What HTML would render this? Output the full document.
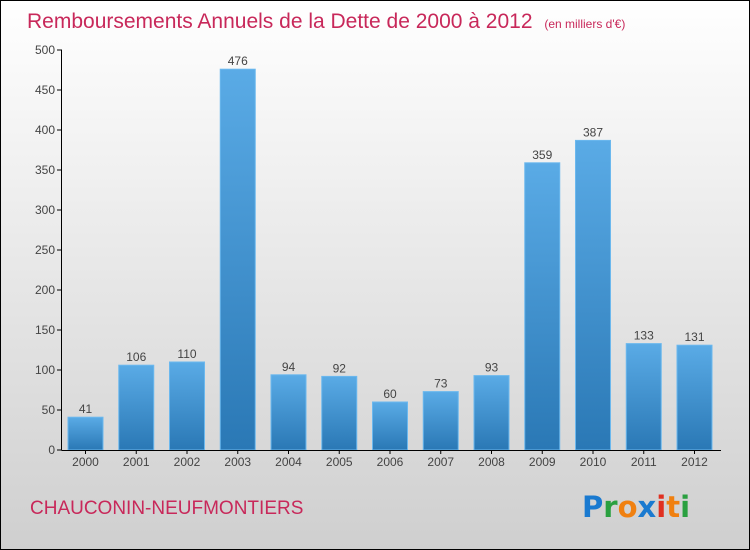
<!DOCTYPE html>
<html><head><meta charset="utf-8"><style>
body{margin:0}
svg{display:block;font-family:"Liberation Sans",sans-serif}
</style></head><body>
<svg width="750" height="550">
<defs>
<linearGradient id="bg" x1="0" y1="0" x2="0" y2="1"><stop offset="0" stop-color="#ffffff"/><stop offset="1" stop-color="#cfcfcf"/></linearGradient>
<linearGradient id="bar" x1="0" y1="0" x2="0" y2="1"><stop offset="0" stop-color="#5aabe6"/><stop offset="1" stop-color="#2a78b5"/></linearGradient>
</defs>
<rect x="0.5" y="0.5" width="749" height="549" fill="url(#bg)" stroke="#000"/>
<text x="27" y="28" font-size="21" fill="#c8285a">Remboursements Annuels de la Dette de 2000 à 2012 <tspan font-size="12" dx="6">(en milliers d'€)</tspan></text>
<g id="plot"></g>
<text x="30" y="514" font-size="19" fill="#c8285a">CHAUCONIN-NEUFMONTIERS</text>
<g font-size="29" font-weight="bold" font-family="'DejaVu Sans',sans-serif">
<text x="582" y="517"><tspan fill="#1a7ad0">P</tspan><tspan fill="#2aa040">r</tspan><tspan fill="#f08010">o</tspan><tspan fill="#1a7ad0">x</tspan><tspan fill="#e03020">i</tspan><tspan fill="#f08010">t</tspan><tspan fill="#2aa040">i</tspan></text>
</g>
</svg>
<script>
const years=["2000","2001","2002","2003","2004","2005","2006","2007","2008","2009","2010","2011","2012"];
const values=[41,106,110,476,94,92,60,73,93,359,387,133,131];
const yTicks=[0,50,100,150,200,250,300,350,400,450,500];
const NS="http://www.w3.org/2000/svg";
const g=document.getElementById('plot');
const y=v=>450-v*0.8;
const x=i=>85.5+i*50.75;
function mk(t,a,txt){const e=document.createElementNS(NS,t);for(const k in a)e.setAttribute(k,a[k]);if(txt!==undefined)e.textContent=txt;g.appendChild(e);return e;}
yTicks.forEach(t=>{
const l=mk('line',{x1:57,x2:62,y1:y(t),y2:y(t),stroke:'#000'});


const tx=mk('text',{x:55,y:y(t)+4,'font-size':12,fill:'#444','text-anchor':'end'},t);


});
values.forEach((v,i)=>{
const r=mk('rect',{x:x(i)-17.5,y:y(v),width:35,height:v*0.8,fill:'url(#bar)',stroke:'#6bb8ee','stroke-width':1});


const lb=mk('text',{x:x(i),y:y(v)-4,'font-size':12,fill:'#444','text-anchor':'middle'},v);


const xl=mk('text',{x:x(i),y:466,'font-size':12,fill:'#444','text-anchor':'middle'},years[i]);


const tk=mk('line',{x1:x(i),x2:x(i),y1:450,y2:454,stroke:'#000'});


});
const ya=mk('line',{x1:61.5,x2:61.5,y1:50,y2:450,stroke:'#000'});


const xa=mk('line',{x1:61.5,x2:721,y1:450.5,y2:450.5,stroke:'#000'});


</script>
</body></html>
